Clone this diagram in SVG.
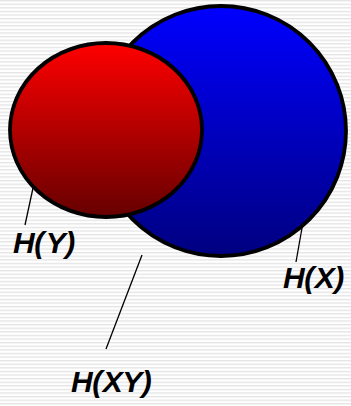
<svg xmlns="http://www.w3.org/2000/svg" width="351" height="406" viewBox="0 0 351 406">
<defs>
<pattern id="stripes" width="351" height="3.6" patternUnits="userSpaceOnUse">
<rect x="0" y="0" width="351" height="3.6" fill="#ffffff"/>
<rect x="0" y="0" width="351" height="1.3" fill="#e4e4e4"/>
</pattern>
<linearGradient id="blueGrad" x1="0" y1="0" x2="0" y2="1">
<stop offset="0" stop-color="#0000ff"/>
<stop offset="1" stop-color="#000080"/>
</linearGradient>
<linearGradient id="redGrad" x1="0" y1="0" x2="0" y2="1">
<stop offset="0" stop-color="#ff0000"/>
<stop offset="1" stop-color="#660000"/>
</linearGradient>
<style>
.set{stroke:#000;stroke-width:3.8}
.lbl{font-family:"Liberation Sans",Arial,sans-serif;font-weight:bold;font-style:italic;font-size:30px;fill:#000;letter-spacing:-0.5px}
.lead{stroke:#000;stroke-width:1.3;fill:none}
</style>
</defs>
<rect x="0" y="0" width="351" height="406" fill="url(#stripes)"/>
<g id="HX-circle">
<circle class="set" cx="221" cy="131" r="125" fill="url(#blueGrad)"/>
</g>
<g id="HY-ellipse">
<ellipse class="set" cx="106" cy="130" rx="96" ry="87" fill="url(#redGrad)"/>
</g>
<g id="connectors">
<line class="lead" x1="33" y1="188" x2="25" y2="225"/>
<line class="lead" x1="302" y1="228" x2="296" y2="262"/>
<line class="lead" x1="142" y1="255" x2="106" y2="349"/>
</g>
<g id="label-HY">
<text class="lbl" x="13" y="253">H(<tspan dx="2">Y</tspan>)</text>
</g>
<g id="label-HX">
<text class="lbl" x="283" y="288">H(<tspan dx="1">X</tspan>)</text>
</g>
<g id="label-HXY">
<text class="lbl" x="71" y="392">H(<tspan dx="1">XY</tspan>)</text>
</g>
</svg>
